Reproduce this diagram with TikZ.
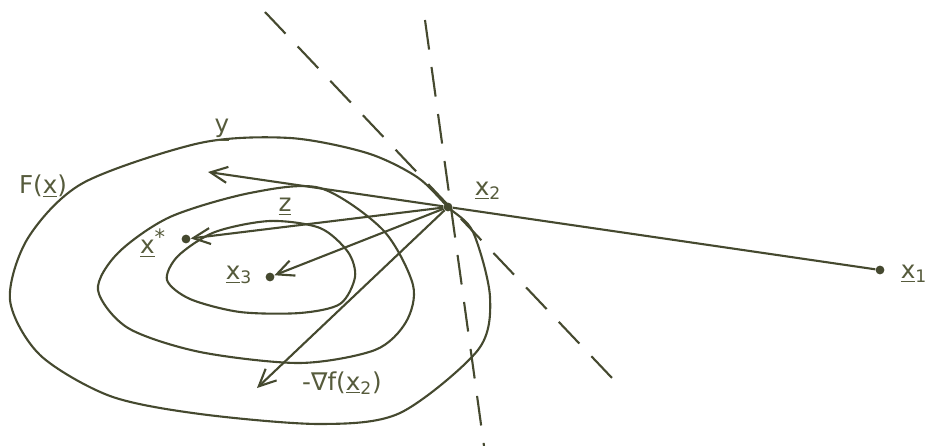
\documentclass[tikz,border=0pt]{standalone}
\usepackage{fontspec}
\setmainfont{DejaVu Sans}
\usetikzlibrary{arrows.meta,positioning}
\definecolor{inkDark}{HTML}{45492F}
\definecolor{inkText}{HTML}{565B3C}

\begin{document}
\begin{tikzpicture}[x=0.02cm,y=-0.02cm,
  font=\fontsize{14}{16}\selectfont,
  dot/.style={circle,fill=inkDark,draw=none,inner sep=0pt,minimum size=5pt},
  lvl/.style={draw=inkDark,line width=1.2pt},
  seg/.style={draw=inkDark,line width=1.2pt},
  tang/.style={draw=inkDark,line width=1.2pt,dash pattern=on 17pt off 10pt},
  dir/.style={-{Straight Barb[length=3.4mm,width=3.2mm]},draw=inkDark,line width=1.2pt},
  lbl/.style={text=inkText,inner sep=1pt}]
\useasboundingbox (0,0) rectangle (941,446);

% level curves of f
\draw[lvl] plot[smooth cycle] coordinates {(448,207) (473,232) (490,297) (478,350)
  (400,413) (320,424) (200,414) (110,396) (40,355) (10,300) (28,238) (83,183)
  (200,143) (290,138) (367,153) (417,177)};
\draw[lvl] plot[smooth cycle] coordinates {(320,188) (383,230) (413,285) (406,322)
  (375,350) (300,363) (200,352) (128,328) (98,290) (118,253) (170,217) (250,193)};
\draw[lvl] plot[smooth cycle] coordinates {(270,221) (320,228) (348,252) (355,277)
  (340,304) (300,313) (240,312) (190,299) (167,280) (178,256) (215,232)};

% points
\node[dot] (x2) at (448,207) {};
\node[dot] (x1) at (880,270) {};
\node[dot] (xs) at (186,239) {};
\node[dot] (x3) at (270,277) {};
\coordinate (ey) at (208,172);
\coordinate (eg) at (257,388);
\coordinate (ta) at (265,12);
\coordinate (tb) at (612,378);
\coordinate (va) at (425,20);
\coordinate (vb) at (484,446);

% labels
\node[lbl] (lx2) at (488,191) {\underline{x}\textsubscript{2}};
\node[lbl] (lx1) at (914,274) {\underline{x}\textsubscript{1}};
\node[lbl] (lxs) at (153,243) {\underline{x}\textsuperscript{\large*}};
\node[lbl] (lx3) at (239,275) {\underline{x}\textsubscript{3}};
\node[lbl] (lz)  at (285,207) {\underline{z}};
\node[lbl] (ly)  at (222,130) {\underline{y}};
\node[lbl] (lF)  at (43,186) {F(\underline{x})};
\node[lbl] (lg)  at (342,383) {-∇f(\underline{x}\textsubscript{2})};

% directions from x2
\draw[seg] (x2) -- (x1);
\draw[dir] (x2) -- (ey);
\draw[dir] (x2) -- (xs);
\draw[dir] (x2) -- (x3);
\draw[dir] (x2) -- (eg);

% tangent lines
\draw[tang] (ta) -- (tb);
\draw[tang] (va) -- (vb);
\end{tikzpicture}
\end{document}
